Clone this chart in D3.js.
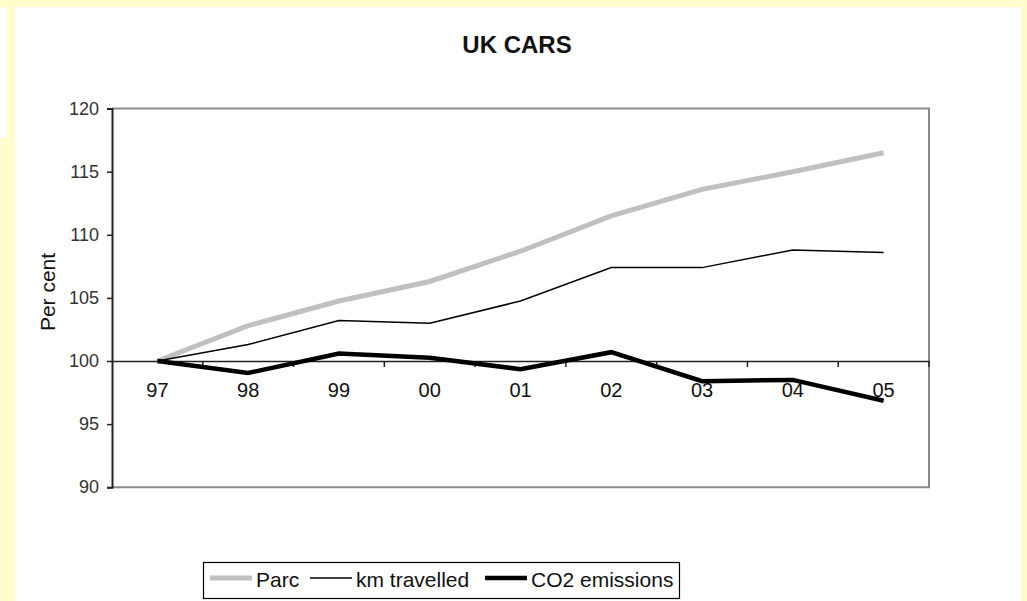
<!DOCTYPE html>
<html>
<head>
<meta charset="utf-8">
<script src="https://cdn.jsdelivr.net/npm/d3@7"></script>
<style>
  html, body { margin: 0; padding: 0; background: #fffdcc; }
  svg { display: block; }
  text { font-family: "Liberation Sans", Arial, sans-serif; }
</style>
</head>
<body>
<script>
// Index of UK car statistics, 1997 = 100
const years = ["97", "98", "99", "00", "01", "02", "03", "04", "05"];
const parc = [100, 102.8, 104.75, 106.3, 108.7, 111.5, 113.6, 115.0, 116.5];
const kmTravelled = [100, 101.3, 103.2, 103.0, 104.75, 107.4, 107.4, 108.8, 108.6];
const co2Emissions = [100, 99.05, 100.6, 100.25, 99.35, 100.7, 98.4, 98.5, 96.85];
const yTicks = [90, 95, 100, 105, 110, 115, 120];

const seriesList = [
  { name: "Parc", values: parc, color: "#c0c0c0", width: 5 },
  { name: "km travelled", values: kmTravelled, color: "#000", width: 1.5 },
  { name: "CO2 emissions", values: co2Emissions, color: "#000", width: 4.5 }
];

const W = 1027, H = 601;
const plot = { left: 112, right: 929, top: 108.6, bottom: 487.2 };

const svg = d3.select("body").append("svg").attr("width", W).attr("height", H);

// page background and white chart sheet
svg.append("rect").attr("width", W).attr("height", H).attr("fill", "#fffdcc");
svg.append("rect").attr("x", 15).attr("y", 7).attr("width", 1006).attr("height", H - 7).attr("fill", "#fff");
svg.append("rect").attr("x", 0).attr("y", 7).attr("width", 6).attr("height", 131).attr("fill", "#fff");

const x = d3.scaleBand().domain(years).range([plot.left, plot.right]).padding(0);
const y = d3.scaleLinear().domain([90, 120]).range([plot.bottom, plot.top]);

// plot frame (top, right, bottom)
svg.append("path")
  .attr("d", `M${plot.left},${plot.top}H${plot.right}V${plot.bottom}H${plot.left}`)
  .attr("fill", "none").attr("stroke", "#8a8a8a").attr("stroke-width", 2);

// value axis
const yAxis = svg.append("g")
  .attr("transform", `translate(${plot.left},0)`)
  .call(d3.axisLeft(y).tickValues(yTicks).tickSize(5).tickPadding(8));
yAxis.select(".domain").attr("stroke", "#222").attr("stroke-width", 2);
yAxis.selectAll(".tick line").attr("stroke", "#222").attr("stroke-width", 1.5);
yAxis.selectAll(".tick text")
  .attr("font-size", 18).attr("fill", "#333")
  .attr("font-family", "'Liberation Sans', Arial, sans-serif");

// category axis crossing at 100
const xAxis = svg.append("g")
  .attr("transform", `translate(0,${y(100)})`)
  .call(d3.axisBottom(x).tickSize(0).tickPadding(22));
xAxis.select(".domain").attr("stroke", "#222").attr("stroke-width", 1.5);
xAxis.selectAll(".tick text")
  .attr("font-size", 20).attr("fill", "#111")
  .attr("font-family", "'Liberation Sans', Arial, sans-serif");

// tick marks at category boundaries
const boundaries = years.map(d => x(d)).concat([x.range()[1]]).slice(1);
svg.append("g").selectAll("line").data(boundaries).join("line")
  .attr("x1", d => d).attr("x2", d => d)
  .attr("y1", y(100)).attr("y2", y(100) + 6)
  .attr("stroke", "#222").attr("stroke-width", 1.5);

// series lines
const line = d3.line()
  .x((d, i) => x(years[i]) + x.bandwidth() / 2)
  .y(d => y(d));

svg.append("g").selectAll("path").data(seriesList).join("path")
  .attr("d", s => line(s.values))
  .attr("fill", "none")
  .attr("stroke", s => s.color)
  .attr("stroke-width", s => s.width)
  .attr("stroke-linejoin", "miter");

// title
svg.append("text")
  .attr("x", 517).attr("y", 53)
  .attr("text-anchor", "middle")
  .attr("font-size", 24).attr("font-weight", "bold").attr("fill", "#111")
  .text("UK CARS");

// value axis title
svg.append("text")
  .attr("transform", `translate(55,292) rotate(-90)`)
  .attr("text-anchor", "middle")
  .attr("font-size", 21).attr("fill", "#111")
  .text("Per cent");

// legend
const legend = svg.append("g");
legend.append("rect")
  .attr("x", 203.5).attr("y", 562.5).attr("width", 476).attr("height", 36)
  .attr("fill", "#fff").attr("stroke", "#000").attr("stroke-width", 1.2);

const legendItems = [
  { s: seriesList[0], x0: 210 },
  { s: seriesList[1], x0: 310 },
  { s: seriesList[2], x0: 485 }
];
legendItems.forEach(it => {
  legend.append("line")
    .attr("x1", it.x0).attr("x2", it.x0 + 42)
    .attr("y1", 578).attr("y2", 578)
    .attr("stroke", it.s.color).attr("stroke-width", it.s.width);
  legend.append("text")
    .attr("x", it.x0 + 46).attr("y", 587)
    .attr("font-size", 21).attr("fill", "#111")
    .text(it.s.name);
});
</script>
</body>
</html>
